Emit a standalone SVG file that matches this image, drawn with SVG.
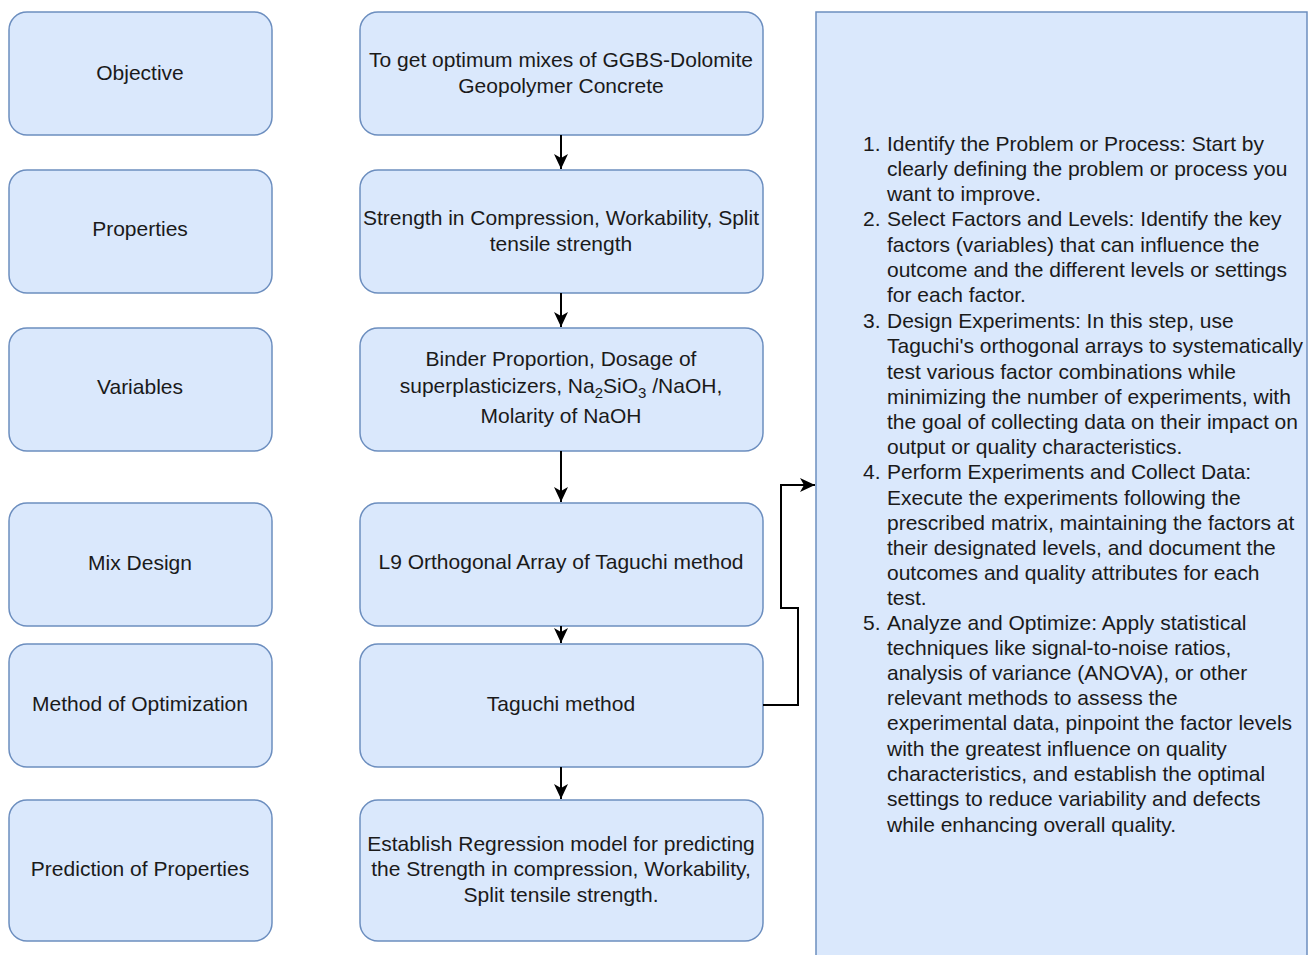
<svg xmlns="http://www.w3.org/2000/svg" width="1309" height="955" viewBox="0 0 1309 955">
<defs>
<style>
.box{fill:#dae8fc;stroke:#6c8ebf;stroke-width:1.5}
.t{font-family:"Liberation Sans",Arial,sans-serif;font-size:21px;fill:#1a1a1a}
.c{text-anchor:middle}
.edge{fill:none;stroke:#000;stroke-width:2}
</style>
<marker id="ah" markerWidth="16" markerHeight="16" viewBox="0 0 16 16" refX="15" refY="8" orient="auto" markerUnits="userSpaceOnUse">
<path d="M0,1 L15,8 L0,15 L4,8 Z" fill="#000"/>
</marker>
</defs>
<rect width="1309" height="955" fill="#fff"/>

<g id="objective"><rect class="box" x="9" y="12" width="263" height="123" rx="18"/><text class="t c" x="140" y="80">Objective</text></g>
<g id="properties"><rect class="box" x="9" y="170" width="263" height="123" rx="18"/><text class="t c" x="140" y="236">Properties</text></g>
<g id="variables"><rect class="box" x="9" y="328" width="263" height="123" rx="18"/><text class="t c" x="140" y="394">Variables</text></g>
<g id="mixdesign"><rect class="box" x="9" y="503" width="263" height="123" rx="18"/><text class="t c" x="140" y="570">Mix Design</text></g>
<g id="method"><rect class="box" x="9" y="644" width="263" height="123" rx="18"/><text class="t c" x="140" y="711">Method of Optimization</text></g>
<g id="prediction"><rect class="box" x="9" y="800" width="263" height="141" rx="18"/><text class="t c" x="140" y="876">Prediction of Properties</text></g>

<g id="m1"><rect class="box" x="360" y="12" width="403" height="123" rx="18"/><text class="t c" x="561" y="67">To get optimum mixes of GGBS-Dolomite</text><text class="t c" x="561" y="93">Geopolymer Concrete</text></g>
<g id="m2"><rect class="box" x="360" y="170" width="403" height="123" rx="18"/><text class="t c" x="561" y="225">Strength in Compression, Workability, Split</text><text class="t c" x="561" y="251">tensile strength</text></g>
<g id="m3"><rect class="box" x="360" y="328" width="403" height="123" rx="18"/><text class="t c" x="561" y="366">Binder Proportion, Dosage of</text><text class="t c" x="561" y="393">superplasticizers, Na<tspan font-size="15" dy="5">2</tspan><tspan dy="-5">SiO</tspan><tspan font-size="15" dy="5">3</tspan><tspan dy="-5"> /NaOH,</tspan></text><text class="t c" x="561" y="423">Molarity of NaOH</text></g>
<g id="m4"><rect class="box" x="360" y="503" width="403" height="123" rx="18"/><text class="t c" x="561" y="569">L9 Orthogonal Array of Taguchi method</text></g>
<g id="m5"><rect class="box" x="360" y="644" width="403" height="123" rx="18"/><text class="t c" x="561" y="711">Taguchi method</text></g>
<g id="m6"><rect class="box" x="360" y="800" width="403" height="141" rx="18"/><text class="t c" x="561" y="851">Establish Regression model for predicting</text><text class="t c" x="561" y="876">the Strength in compression, Workability,</text><text class="t c" x="561" y="902">Split tensile strength.</text></g>

<g id="steps"><rect class="box" x="816" y="12" width="491" height="960"/>
<text class="t">
<tspan x="863" y="151">1.</tspan><tspan x="887" y="151">Identify the Problem or Process: Start by</tspan>
<tspan x="887" y="176">clearly defining the problem or process you</tspan>
<tspan x="887" y="201">want to improve.</tspan>
<tspan x="863" y="226">2.</tspan><tspan x="887" y="226">Select Factors and Levels: Identify the key</tspan>
<tspan x="887" y="252">factors (variables) that can influence the</tspan>
<tspan x="887" y="277">outcome and the different levels or settings</tspan>
<tspan x="887" y="302">for each factor.</tspan>
<tspan x="863" y="328">3.</tspan><tspan x="887" y="328">Design Experiments: In this step, use</tspan>
<tspan x="887" y="353">Taguchi's orthogonal arrays to systematically</tspan>
<tspan x="887" y="379">test various factor combinations while</tspan>
<tspan x="887" y="404">minimizing the number of experiments, with</tspan>
<tspan x="887" y="429">the goal of collecting data on their impact on</tspan>
<tspan x="887" y="454">output or quality characteristics.</tspan>
<tspan x="863" y="479">4.</tspan><tspan x="887" y="479">Perform Experiments and Collect Data:</tspan>
<tspan x="887" y="505">Execute the experiments following the</tspan>
<tspan x="887" y="530">prescribed matrix, maintaining the factors at</tspan>
<tspan x="887" y="555">their designated levels, and document the</tspan>
<tspan x="887" y="580">outcomes and quality attributes for each</tspan>
<tspan x="887" y="605">test.</tspan>
<tspan x="863" y="630">5.</tspan><tspan x="887" y="630">Analyze and Optimize: Apply statistical</tspan>
<tspan x="887" y="655">techniques like signal-to-noise ratios,</tspan>
<tspan x="887" y="680">analysis of variance (ANOVA), or other</tspan>
<tspan x="887" y="705">relevant methods to assess the</tspan>
<tspan x="887" y="730">experimental data, pinpoint the factor levels</tspan>
<tspan x="887" y="756">with the greatest influence on quality</tspan>
<tspan x="887" y="781">characteristics, and establish the optimal</tspan>
<tspan x="887" y="806">settings to reduce variability and defects</tspan>
<tspan x="887" y="832">while enhancing overall quality.</tspan>
</text></g>

<g id="connectors">
<line class="edge" x1="561" y1="135" x2="561" y2="169" marker-end="url(#ah)"/>
<line class="edge" x1="561" y1="293" x2="561" y2="327" marker-end="url(#ah)"/>
<line class="edge" x1="561" y1="451" x2="561" y2="502" marker-end="url(#ah)"/>
<line class="edge" x1="561" y1="626" x2="561" y2="643" marker-end="url(#ah)"/>
<line class="edge" x1="561" y1="767" x2="561" y2="799" marker-end="url(#ah)"/>
<polyline class="edge" points="763,705 798,705 798,608 781,608 781,485 815,485" marker-end="url(#ah)"/>
</g>
</svg>
